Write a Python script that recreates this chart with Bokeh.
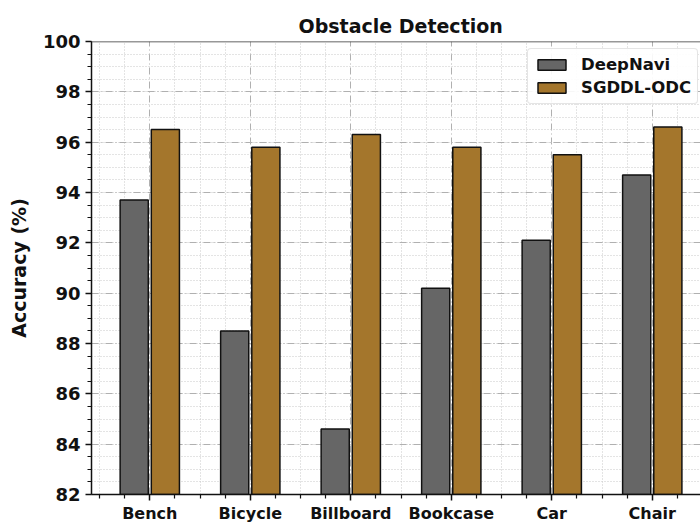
from bokeh.plotting import figure
from bokeh.models import ColumnDataSource, FixedTicker, Span, Legend, LegendItem
from bokeh.transform import dodge
from bokeh.embed import file_html
from bokeh.resources import INLINE

categories = ["Bench", "Bicycle", "Billboard", "Bookcase", "Car", "Chair"]
deepnavi = [93.7, 88.5, 84.6, 90.2, 92.1, 94.7]
sgddl_odc = [96.5, 95.8, 96.3, 95.8, 95.5, 96.6]
y_ticks = [82, 84, 86, 88, 90, 92, 94, 96, 98, 100]

xpos = list(range(len(categories)))
src = ColumnDataSource(dict(x=xpos, deepnavi=deepnavi, sgddl=sgddl_odc))

FONT = "DejaVu Sans"

p = figure(width=700, height=525, output_backend="svg", toolbar_location=None,
           x_range=(-0.58, 5.48), y_range=(82, 100),
           title="Obstacle Detection",
           min_border_left=91, min_border_right=0, min_border_top=41, min_border_bottom=0)

p.outline_line_color = None
p.background_fill_color = "white"

r1 = p.vbar(x=dodge("x", -0.155, range=p.x_range), top="deepnavi", bottom=82, width=0.28,
            source=src, fill_color="#666666", line_color="#111111", line_width=1.5)
r2 = p.vbar(x=dodge("x", 0.155, range=p.x_range), top="sgddl", bottom=82, width=0.28,
            source=src, fill_color="#a4762c", line_color="#111111", line_width=1.5)

# top border
p.add_layout(Span(location=100, dimension="width", line_color="#333333", line_width=1.5))

# ticks
minor_x = [i * 0.25 - 0.5 for i in range(24) if (i * 0.25 - 0.5) not in xpos]
p.xaxis.ticker = FixedTicker(ticks=xpos, minor_ticks=minor_x)
p.xaxis.major_label_overrides = {i: c for i, c in enumerate(categories)}
minor_y = [82 + i * 0.5 for i in range(37)]
p.yaxis.ticker = FixedTicker(ticks=y_ticks, minor_ticks=minor_y)

for ax in (p.xaxis[0], p.yaxis[0]):
    ax.axis_line_color = "#111111"
    ax.axis_line_width = 1.5
    ax.major_tick_line_color = "#111111"
    ax.major_tick_line_width = 1.5
    ax.major_tick_out = 6
    ax.major_tick_in = 0
    ax.minor_tick_line_color = "#111111"
    ax.minor_tick_line_width = 1.2
    ax.minor_tick_out = 4
    ax.minor_tick_in = 0
    ax.major_label_text_font = FONT
    ax.major_label_text_font_style = "bold"
    ax.major_label_text_color = "#111111"

p.xaxis.major_label_text_font_size = "16px"
p.xaxis.major_label_standoff = 3
p.yaxis.major_label_text_font_size = "18px"
p.yaxis.major_label_standoff = 5
p.yaxis.axis_label = "Accuracy (%)"
p.yaxis.axis_label_text_font = FONT
p.yaxis.axis_label_text_font_style = "bold"
p.yaxis.axis_label_text_font_size = "19px"
p.yaxis.axis_label_text_color = "#111111"
p.yaxis.axis_label_standoff = 10

# grids
for g in (p.xgrid[0], p.ygrid[0]):
    g.grid_line_color = "#b0b0b0"
    g.grid_line_width = 1
    g.grid_line_dash = "7 3 1 3"
    g.minor_grid_line_color = "#c8c8c8"
    g.minor_grid_line_width = 1
    g.minor_grid_line_dash = "1 2"

# title
p.title.text_font = FONT
p.title.text_font_style = "bold"
p.title.text_font_size = "19px"
p.title.align = "left"
p.title.offset = 207
p.title.text_color = "#111111"

legend = Legend(items=[LegendItem(label="DeepNavi", renderers=[r1]),
                       LegendItem(label="SGDDL-ODC", renderers=[r2])],
                location=(436, 390))
legend.label_text_font = FONT
legend.label_text_font_style = "bold"
legend.label_text_font_size = "16.5px"
legend.label_text_color = "#111111"
legend.glyph_width = 35
legend.glyph_height = 13
legend.label_standoff = 12
legend.spacing = 4
legend.padding = 6
legend.margin = 0
legend.border_line_color = "#cccccc"
legend.border_line_width = 1
legend.border_radius = 4
legend.background_fill_alpha = 0.9
p.add_layout(legend)

open("out.html", "w").write(file_html(p, INLINE))
